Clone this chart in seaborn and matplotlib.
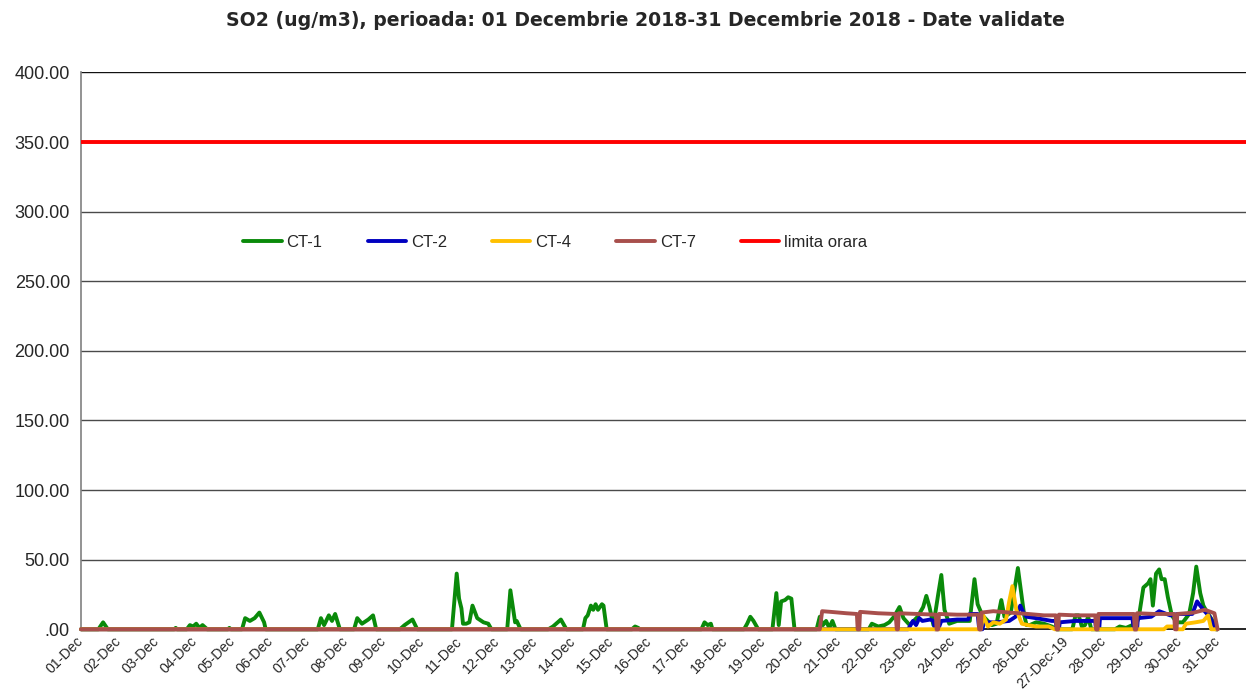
import numpy as np
import pandas as pd
import matplotlib
matplotlib.use("Agg")
import matplotlib.pyplot as plt
import seaborn as sns

# hours since 01-Dec 00:00, values in ug/m3
ct1_hours = [0, 11, 14, 17, 59, 60, 61, 67, 69, 71, 73, 75, 77, 80, 93, 94, 95,
             102, 104, 107, 110, 113, 116, 117, 150, 152, 154, 157, 159, 161, 164,
             173, 175, 178, 182, 185, 187, 202, 205, 210, 213,
             235, 238, 239.5, 241, 242, 244, 246, 248, 251, 255, 258, 260,
             270, 272, 275, 276, 278.5, 296, 299, 304, 307.5,
             318, 319.5, 321, 323, 324.5, 326, 327.5, 330, 331, 333,
             349, 351, 353, 354, 393, 395, 397, 399, 400, 420, 422, 424, 426, 429,
             438, 440.5, 442, 443.5, 446, 448, 450, 452,
             466, 468, 470, 472, 474, 476, 478,
             499, 501, 505, 509, 512, 515, 518.5, 521, 525, 530, 533.5, 535.5, 537.5,
             540, 543, 545, 547, 550, 555, 563, 566, 568, 571, 577, 580, 583, 585,
             589, 593.5, 597.5, 599, 601, 605, 610, 615, 618,
             628, 630, 632, 634, 636, 638, 640, 655, 658, 662, 666,
             668, 670, 673, 676, 677.5, 679, 681, 683, 684.5, 686.5, 688.5, 691, 694,
             698, 702, 704.5, 706.5, 709, 711, 714, 717, 719, 720]
ct1_vals = [0, 0, 5, 0, 0, 1, 0, 0, 3, 2, 4, 1, 3, 0, 0, 1, 0,
            0, 8, 6, 8, 12, 5, 0, 0, 8, 3, 10, 6, 11, 0,
            0, 8, 4, 7, 10, 0, 0, 3, 7, 0,
            0, 40, 22, 15, 4, 4, 5, 17, 8, 5, 4, 0,
            0, 28, 5, 6, 0, 0, 2, 7, 0,
            0, 8, 10, 17, 14, 18, 14, 18, 17, 0,
            0, 2, 1, 0, 0, 5, 3, 4, 0, 0, 4, 9, 6, 0,
            0, 26, 3, 20, 21, 23, 22, 0,
            0, 9, 3, 6, 1, 6, 0,
            0, 4, 2, 3, 5, 9, 16, 8, 3, 9, 16, 24, 16,
            3, 25, 39, 14, 4, 6, 6, 36, 18, 10, 3, 4, 21, 9,
            12, 44, 10, 3, 3, 5, 4, 2, 0,
            0, 10, 10, 2, 3, 9, 0, 0, 2, 1, 3,
            3, 8, 30, 33, 36, 17, 40, 43, 36, 36, 23, 10, 5,
            5, 11, 26, 45, 26, 17, 11, 6, 0, 0]

ct2_hours = [0, 524, 527, 529, 531, 533, 538, 540, 541, 543, 545, 555, 562, 563,
             568, 569, 571, 572, 580, 588, 592, 595, 597, 599, 605, 615, 617.5,
             618, 619.5, 620, 630, 640, 642.5, 643, 645, 645.5, 666, 667, 669,
             669.5, 678, 683, 690, 695, 704, 707, 711, 715, 719, 720]
ct2_vals = [0, 0, 6, 3, 8, 6, 7, 6, 0, 0, 6, 7, 7, 11,
            11, 0, 0, 5, 5, 6, 9, 17, 12, 9, 8, 6, 6,
            0, 0, 5, 6, 6, 6, 0, 0, 8, 8, 0, 0,
            8, 9, 13, 10, 11, 11, 20, 14, 9, 0, 0]

ct4_hours = [0, 570, 571.5, 574.5, 578, 582, 586, 588, 590, 592.5, 596, 600, 605,
             613, 617, 686, 688, 692, 694, 698, 700, 706, 711, 714, 716, 720]
ct4_vals = [0, 0, 10, 2, 5, 4, 7, 20, 31, 14, 4, 3, 2,
            2, 0, 0, 2, 2, 0, 0, 4, 5, 6, 10, 0, 0]

ct7_hours = [0, 468, 469.5, 475, 485, 491.5, 492, 493, 493.5, 505, 516, 516.8,
             517.5, 518, 530, 541.5, 542, 543, 543.5, 555, 568.5, 569, 570, 570.5,
             578, 588, 600, 610, 617.5, 618, 619, 619.5, 630, 642.5, 643, 644,
             644.5, 655, 667, 667.5, 668.5, 669, 680, 692.5, 693, 694, 694.5, 705,
             712, 718, 720]
ct7_vals = [0, 0, 13, 12.5, 11.5, 11, 0, 0, 12.5, 11.5, 11, 0,
            0, 11.5, 11, 10.5, 0, 0, 11, 10.5, 10.5, 0, 0, 12,
            13, 12, 11, 10, 10, 0, 0, 10.5, 10, 10, 0, 0,
            11, 11, 11, 0, 0, 11.5, 11, 11, 0, 0, 11, 12,
            14, 11.5, 0]

limit_value = 350

series_names = ["CT-1", "CT-2", "CT-4", "CT-7"]
series_colors = ["#0a8a0a", "#0000c0", "#ffc000", "#a84f4c"]
day_labels = ["%02d-Dec" % d for d in range(1, 32)]
day_labels[26] = "27-Dec-19"
y_ticks = [0, 50, 100, 150, 200, 250, 300, 350, 400]
y_labels = [".00"] + ["%.2f" % v for v in y_ticks[1:]]

sns.set_style("white")
plt.rcParams["font.family"] = ["Liberation Sans", "DejaVu Sans"]

fig, ax = plt.subplots(figsize=(12.46, 6.9), dpi=100)
fig.subplots_adjust(left=0.065, right=1.0, top=0.895, bottom=0.088)

data = [(ct1_hours, ct1_vals), (ct2_hours, ct2_vals), (ct4_hours, ct4_vals), (ct7_hours, ct7_vals)]
for name, color, (hrs, vals) in zip(series_names, series_colors, data):
    sns.lineplot(x=hrs, y=vals, ax=ax, color=color, lw=2.8, label=name,
                 estimator=None, sort=False, clip_on=False, zorder=3)
ax.axhline(limit_value, color="#ff0000", lw=2.8, label="limita orara", zorder=3)

ax.set_xlim(0, 738)
ax.set_ylim(0, 400)
ax.set_xticks([24 * i for i in range(31)])
ax.set_xticklabels(day_labels, rotation=45, ha="right", va="center",
                   rotation_mode="anchor", fontsize=10.2)
ax.set_yticks(y_ticks)
ax.set_yticklabels(y_labels, fontsize=13)
ax.set_xlabel("")
ax.set_ylabel("")
ax.tick_params(axis="x", direction="out", length=5, width=1, color="black", pad=2)
ax.tick_params(axis="y", direction="out", length=5, width=1, color="#808080", pad=3)

for v in y_ticks[1:]:
    ax.axhline(v, color="#4a4a4a" if v < 400 else "#111111", lw=1.0, zorder=1)

sns.despine(ax=ax, top=True, right=True)
ax.spines["left"].set_color("#808080")
ax.spines["left"].set_linewidth(1.2)
ax.spines["bottom"].set_color("black")
ax.spines["bottom"].set_linewidth(1.2)

ax.legend(loc="center", bbox_to_anchor=(0.407, 0.695), ncol=5, frameon=False,
          fontsize=12, handlelength=2.3, handletextpad=0.3, columnspacing=2.7)

fig.suptitle("SO2 (ug/m3), perioada: 01 Decembrie 2018-31 Decembrie 2018 - Date validate",
             x=0.518, y=0.971, va="center", fontsize=13.6, fontweight="bold",
             family="DejaVu Sans")

fig.savefig("out.png", dpi=100)
